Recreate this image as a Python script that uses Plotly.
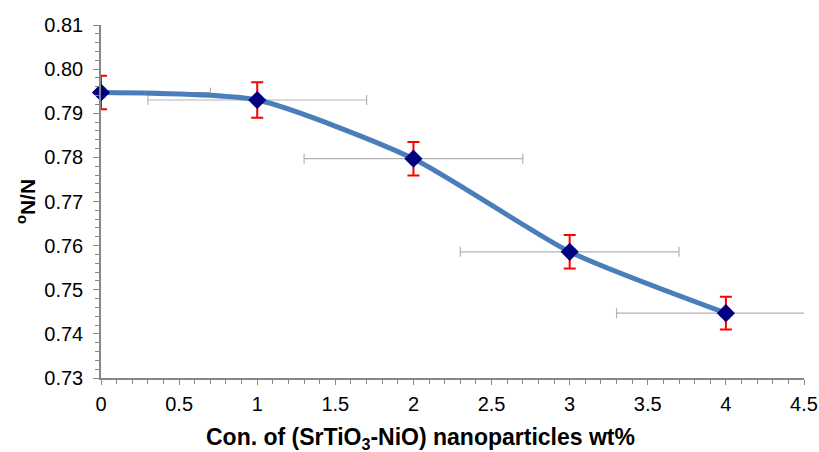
import plotly.graph_objects as go

conc = [0, 1, 2, 3, 4]
ratio = [0.7947, 0.7930, 0.7797, 0.7586, 0.7447]
y_err = [0.0038, 0.0040, 0.0038, 0.0038, 0.0037]
x_err = [0.7, 0.7, 0.7, 0.7, 0.7]

x_title = "<b>Con. of (SrTiO<sub>3</sub>-NiO) nanoparticles wt%</b>"
y_title = "<b><sup>o</sup>N/N</b>"

fig = go.Figure()
# horizontal error bars (gray), clipped to plot area
fig.add_trace(go.Scatter(
    x=conc, y=ratio, mode="markers",
    marker=dict(size=1, opacity=0),
    error_x=dict(type="data", array=x_err, color="#b3b3b3", thickness=1.2, width=5),
    showlegend=False, hoverinfo="skip"))
# smoothed line
fig.add_trace(go.Scatter(
    x=conc, y=ratio, mode="lines",
    line=dict(color="#4a7ebb", width=5, shape="spline", smoothing=0.6),
    showlegend=False))
# markers with vertical error bars
fig.add_trace(go.Scatter(
    x=conc, y=ratio, mode="markers",
    marker=dict(symbol="diamond", size=14, color="#000080"),
    error_y=dict(type="data", array=y_err, color="#ff0000", thickness=2, width=6),
    cliponaxis=False, showlegend=False))

FAM = "Liberation Sans, Arial, sans-serif"
tick_font = dict(family=FAM, size=20, color="#000000")
fig.update_layout(
    width=819, height=452,
    margin=dict(l=101, r=15, t=25, b=74),
    paper_bgcolor="white", plot_bgcolor="white",
    font=tick_font,
    xaxis=dict(
        range=[0, 4.5], dtick=0.5, tick0=0, automargin=False,
        showgrid=False, zeroline=False,
        showline=True, linecolor="#868686", linewidth=1.5,
        ticks="outside", ticklen=5, tickcolor="#868686",
        minor=dict(ticks="outside", ticklen=4, dtick=0.1, tickcolor="#868686", showgrid=False),
        tickfont=tick_font, ticklabelstandoff=2,
    ),
    yaxis=dict(
        range=[0.73, 0.81], dtick=0.01, tick0=0.73, tickformat=".2f", automargin=False,
        showgrid=False, zeroline=False,
        showline=True, linecolor="#868686", linewidth=1.5,
        ticks="outside", ticklen=6, tickcolor="#868686",
        minor=dict(ticks="outside", ticklen=4, dtick=0.002, tickcolor="#868686", showgrid=False),
        tickfont=tick_font, ticklabelstandoff=6,
        title=dict(text=y_title, font=dict(family=FAM, size=21, color="#000"), standoff=3),
    ),
    annotations=[dict(
        text=x_title, xref="paper", yref="paper", x=0.455, y=-0.171,
        xanchor="center", yanchor="middle", showarrow=False,
        font=dict(family=FAM, size=23, color="#000"))],
)

fig.write_html("out.html", config={"displayModeBar": False},
               post_script="document.body.style.margin='0px';")
